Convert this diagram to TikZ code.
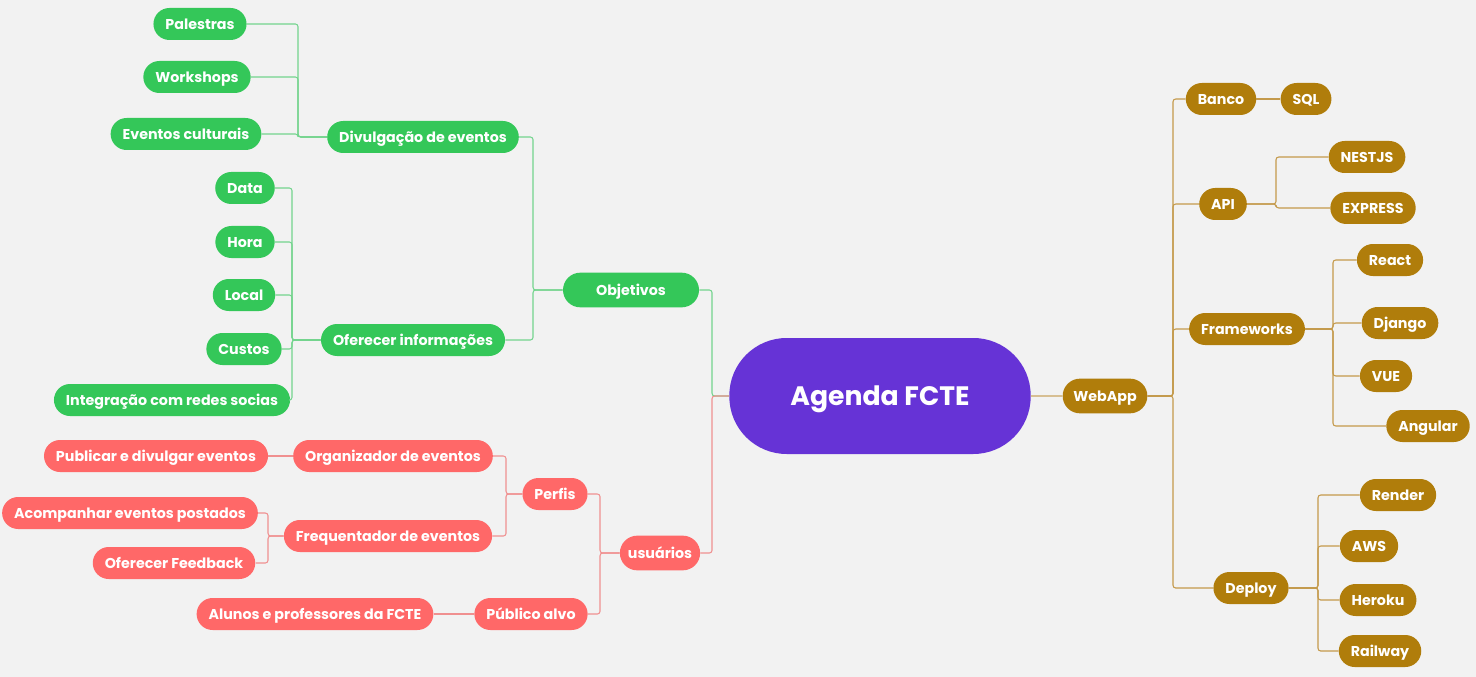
\documentclass[tikz,border=0pt]{standalone}
\usepackage{fontspec}
\setmainfont{Poppins}
\usetikzlibrary{arrows.meta}
\definecolor{bgc}{HTML}{F2F2F2}
\definecolor{greenc}{HTML}{34C759}
\definecolor{greenl}{HTML}{74D48E}
\definecolor{redc}{HTML}{FF6868}
\definecolor{redl}{HTML}{F09090}
\definecolor{brownc}{HTML}{B07D0B}
\definecolor{brownl}{HTML}{C49A4C}
\definecolor{tanl}{HTML}{D7BF93}
\definecolor{purplec}{HTML}{6633D6}

\begin{document}
\begin{tikzpicture}[x=0.75pt,y=-0.75pt,line join=round,
  pill/.style={rounded corners=12pt,minimum height=24pt,inner xsep=9pt,
    inner ysep=0pt,text height=7.6pt,text depth=0pt,text=white,
    font=\bfseries\fontsize{10.7}{12}\selectfont},
  topic/.style={rounded corners=13pt,minimum height=26pt},
  gnode/.style={pill,fill=greenc},
  rnode/.style={pill,fill=redc},
  bnode/.style={pill,fill=brownc},
  glink/.style={draw=greenl,line width=0.8pt,rounded corners=2pt},
  rlink/.style={draw=redl,line width=0.8pt,rounded corners=2pt},
  blink/.style={draw=brownl,line width=0.8pt,rounded corners=2pt}]

\fill[bgc] (0,0) rectangle (1476,677);
\useasboundingbox (0,0) rectangle (1476,677);

%% ---------------- centre ----------------
\node[fill=purplec,rounded corners=43pt,minimum width=226pt,minimum height=87pt,
  text height=14.5pt,text depth=0pt,inner ysep=0pt,
  text=white,font=\bfseries\fontsize{20}{24}\selectfont] (agenda) at (880,396) {Agenda FCTE};
\coordinate (lbus) at (712,396);

%% ---------------- objetivos (green) ----------------
\node[gnode,topic,minimum width=102pt] (obj) at (631,290) {Objetivos};
\node[gnode] (div) at (423,137) {Divulgação de eventos};
\node[gnode] (info) at (413,340) {Oferecer informações};
\node[gnode] (pal) at (200,24) {Palestras};
\node[gnode] (work) at (197,77) {Workshops};
\node[gnode] (cult) at (186,134) {Eventos culturais};
\node[gnode] (data) at (245,188) {Data};
\node[gnode] (hora) at (245,242) {Hora};
\node[gnode] (local) at (244,295) {Local};
\node[gnode] (custo) at (244,349) {Custos};
\node[gnode] (redes) at (172,400) {Integração com redes socias};
\coordinate (objbus) at (533,290);
\coordinate (divbus) at (298,137);
\coordinate (infobus) at (292,340);

\draw[glink] (obj.east) -| (lbus) -- (agenda.west);
\foreach \n in {div,info}
  \draw[glink] (\n.east) -| (objbus) -- (obj.west);
\foreach \n in {pal,work,cult}
  \draw[glink] (\n.east) -| (divbus) -- (div.west);
\foreach \n in {data,hora,local,custo,redes}
  \draw[glink] (\n.east) -| (infobus) -- (info.west);

%% ---------------- usuarios (red) ----------------
\node[rnode,topic,inner xsep=6pt] (usu) at (660,553) {usuários};
\node[rnode] (perf) at (555,494) {Perfis};
\node[rnode] (pub) at (531,614) {Público alvo};
\node[rnode] (org) at (393,456) {Organizador de eventos};
\node[rnode] (freq) at (388,536) {Frequentador de eventos};
\node[rnode] (publ) at (156,456) {Publicar e divulgar eventos};
\node[rnode] (acomp) at (130,513) {Acompanhar eventos postados};
\node[rnode] (feed) at (174,563) {Oferecer Feedback};
\node[rnode] (alun) at (315,614) {Alunos e professores da FCTE};
\coordinate (usubus) at (600,553);
\coordinate (perfbus) at (506,494);
\coordinate (freqbus) at (268,536);

\draw[rlink] (usu.east) -| (lbus) -- (agenda.west);
\foreach \n in {perf,pub}
  \draw[rlink] (\n.east) -| (usubus) -- (usu.west);
\foreach \n in {org,freq}
  \draw[rlink] (\n.east) -| (perfbus) -- (perf.west);
\foreach \n in {acomp,feed}
  \draw[rlink] (\n.east) -| (freqbus) -- (freq.west);
\draw[rlink] (publ) -- (org);
\draw[rlink] (alun) -- (pub);

%% ---------------- webapp (brown) ----------------
\node[bnode,topic,inner xsep=8pt] (web) at (1105,396) {WebApp};
\node[bnode] (banco) at (1221,99) {Banco};
\node[bnode] (sql) at (1306,99) {SQL};
\node[bnode] (api) at (1223,204) {API};
\node[bnode] (nest) at (1367,157) {NESTJS};
\node[bnode] (expr) at (1373,208) {EXPRESS};
\node[bnode] (frame) at (1247,329) {Frameworks};
\node[bnode] (react) at (1390,260) {React};
\node[bnode] (djan) at (1400,323) {Django};
\node[bnode] (vue) at (1386,376) {VUE};
\node[bnode] (ang) at (1428,426) {Angular};
\node[bnode] (depl) at (1251,588) {Deploy};
\node[bnode] (rend) at (1398,495) {Render};
\node[bnode] (aws) at (1369,546) {AWS};
\node[bnode] (hero) at (1378,600) {Heroku};
\node[bnode] (rail) at (1380,651) {Railway};
\coordinate (webbus) at (1173,396);
\coordinate (apibus) at (1276,204);
\coordinate (frbus) at (1333,329);
\coordinate (depbus) at (1318,588);

\draw[draw=tanl,line width=0.8pt] (agenda) -- (web);
\foreach \n in {banco,api,frame,depl}
  \draw[blink] (web.east) -- (webbus) |- (\n.west);
\draw[blink] (banco) -- (sql);
\foreach \n in {nest,expr}
  \draw[blink] (api.east) -- (apibus) |- (\n.west);
\foreach \n in {react,djan,vue,ang}
  \draw[blink] (frame.east) -- (frbus) |- (\n.west);
\foreach \n in {rend,aws,hero,rail}
  \draw[blink] (depl.east) -- (depbus) |- (\n.west);

\end{tikzpicture}
\end{document}
